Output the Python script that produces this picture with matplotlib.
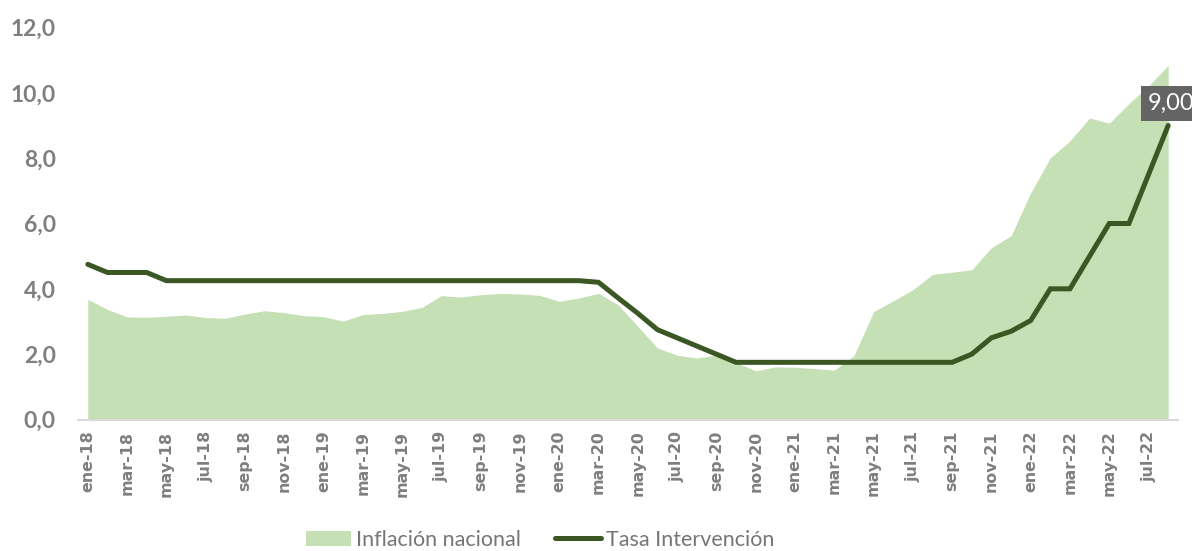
import matplotlib
matplotlib.use("Agg")
import matplotlib.pyplot as plt
from matplotlib.patches import Patch
from matplotlib.lines import Line2D
import numpy as np

plt.rcParams['font.family'] = ['Lato', 'DejaVu Sans']

months = ["ene", "feb", "mar", "abr", "may", "jun", "jul", "ago", "sep", "oct", "nov", "dic"]
years = ["18", "19", "20", "21", "22"]
categories = [f"{m}-{y}" for y in years for m in months][:56]

inflacion = [3.68, 3.37, 3.14, 3.13, 3.16, 3.20, 3.12, 3.10, 3.23, 3.33, 3.27, 3.18,
             3.15, 3.01, 3.21, 3.25, 3.31, 3.43, 3.79, 3.75, 3.82, 3.86, 3.84, 3.80,
             3.62, 3.72, 3.86, 3.51, 2.85, 2.19, 1.97, 1.88, 1.97, 1.75, 1.49, 1.61,
             1.60, 1.56, 1.51, 1.95, 3.30, 3.63, 3.97, 4.44, 4.51, 4.58, 5.26, 5.62,
             6.94, 8.01, 8.53, 9.23, 9.07, 9.67, 10.21, 10.84]

tasa = [4.75, 4.50, 4.50, 4.50, 4.25, 4.25, 4.25, 4.25, 4.25, 4.25, 4.25, 4.25,
        4.25, 4.25, 4.25, 4.25, 4.25, 4.25, 4.25, 4.25, 4.25, 4.25, 4.25, 4.25,
        4.25, 4.25, 4.20, 3.72, 3.25, 2.75, 2.50, 2.25, 2.00, 1.75, 1.75, 1.75,
        1.75, 1.75, 1.75, 1.75, 1.75, 1.75, 1.75, 1.75, 1.75, 2.00, 2.50, 2.70,
        3.03, 4.00, 4.00, 5.00, 6.00, 6.00, 7.50, 9.00]

yticks = [0, 2, 4, 6, 8, 10, 12]
ytick_labels = ["0,0", "2,0", "4,0", "6,0", "8,0", "10,0", "12,0"]
last_label = "9,00"

fill_color = "#c5e0b4"
line_color = "#3a5724"
grey = "#7f7f7f"

W, H = 1192, 551
fig = plt.figure(figsize=(W / 100, H / 100), dpi=100)
ax = fig.add_axes([78 / W, (H - 419.5) / H, 1100 / W, 392 / H])

x = np.arange(len(categories))
ax.fill_between(x, 0, inflacion, color=fill_color, linewidth=0, zorder=1)
ax.plot(x, tasa, color=line_color, linewidth=3.6, solid_capstyle='round',
        solid_joinstyle='miter', zorder=3)

ax.set_xlim(-0.5, len(categories) - 0.5)
ax.set_ylim(0, 12)
ax.set_yticks(yticks)
ax.set_yticklabels(ytick_labels)
ax.set_xticks(x[::2])
ax.set_xticklabels(categories[::2], rotation=90, family=['DejaVu Sans'])

for s in ["top", "right", "left"]:
    ax.spines[s].set_visible(False)
ax.spines["bottom"].set_color("#d9d9d9")
ax.spines["bottom"].set_linewidth(1.5)
ax.tick_params(axis='both', length=0)
ax.tick_params(axis='y', pad=16, labelsize=16.5, labelcolor=grey)
ax.tick_params(axis='x', pad=8, labelsize=11.4, labelcolor=grey)
for lbl in ax.get_yticklabels() + ax.get_xticklabels():
    lbl.set_fontweight('bold')

ax.annotate(last_label, xy=(x[-1], tasa[-1]), xytext=(-20, 22),
            textcoords='offset pixels', ha='left', va='center',
            fontsize=17, color='white', zorder=5, annotation_clip=False,
            bbox=dict(boxstyle='square,pad=0.3', fc='#646464', ec='none'))

handles = [Patch(facecolor=fill_color, edgecolor='none'),
           Line2D([0], [0], color=line_color, linewidth=3.6, solid_capstyle='round')]
fig.legend(handles, ["Inflación nacional", "Tasa Intervención"], loc='center',
           bbox_to_anchor=(540 / W, 11 / H), ncol=2, frameon=False,
           fontsize=15.5, labelcolor='#767676', handlelength=2.1, handleheight=0.7,
           handletextpad=0.25, columnspacing=1.6)

fig.savefig("out.png", dpi=100)
